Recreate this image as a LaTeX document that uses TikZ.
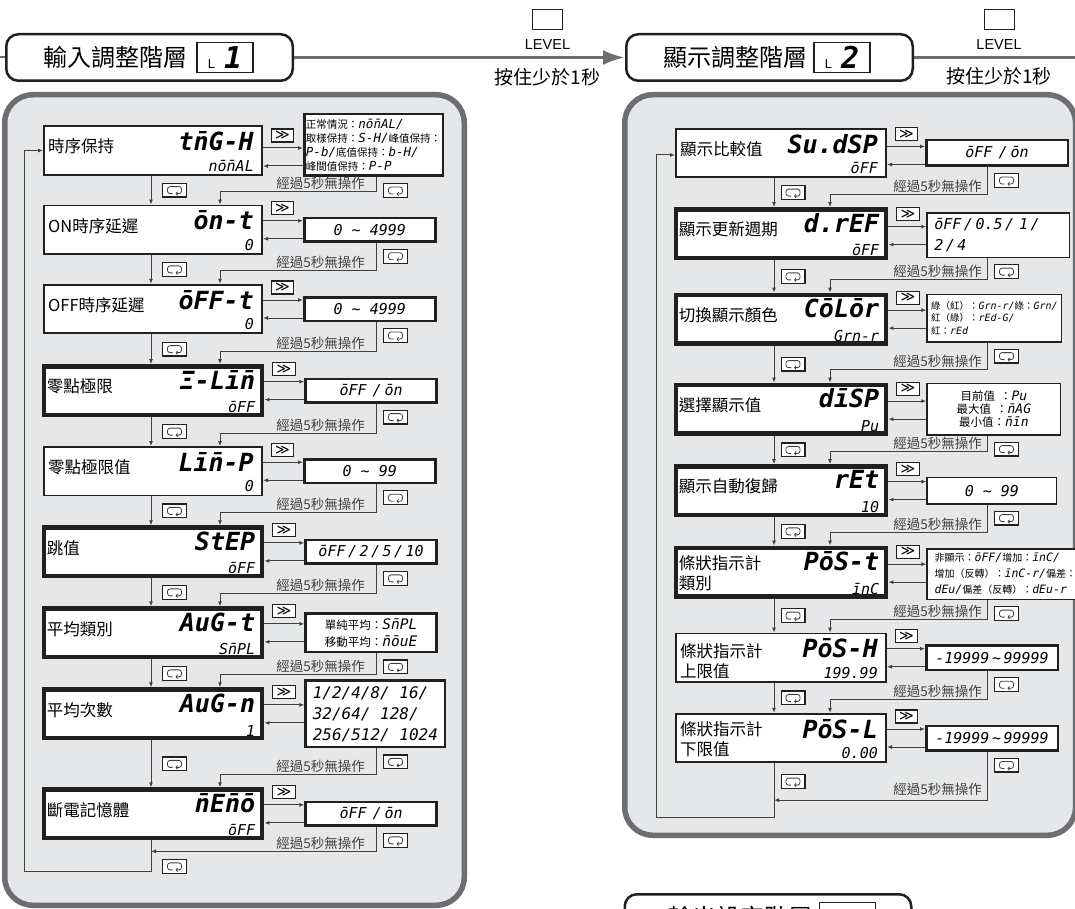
\documentclass[tikz,border=0pt]{standalone}
\usepackage{fontspec}
\setmainfont{Liberation Sans}
\newfontfamily\cjkfont{Noto Sans CJK TC}
\newfontfamily\segfont{DejaVu Sans Mono}
\newfontfamily\keyfont{DejaVu Sans}
\usetikzlibrary{arrows.meta,positioning,calc}
\definecolor{panelgray}{RGB}{230,231,232}
\definecolor{rimgray}{RGB}{109,110,113}
\definecolor{inkblack}{RGB}{35,31,32}
\definecolor{wiregray}{RGB}{64,64,64}
% chinese words inside the option boxes
\newcommand\zh[2][11]{{\cjkfont\fontsize{#1}{#1}\selectfont #2}}
% segment m (n with a bar on top)
\newcommand\segm{\rlap{\char"00AF}n}
% loop symbol of the mode key
\newcommand\retkey[1]{\draw[wiregray,line width=0.8pt,rounded corners=2.5pt,-{Straight Barb[length=1.5pt,width=3.5pt]}] ([shift={(-2pt,-3.5pt)}]#1.center) -- ++(-5pt,0pt) -- ++(0pt,7pt) -- ++(14pt,0pt) -- ++(0pt,-7pt) -- ++(-6pt,0pt);}

\begin{document}
\begin{tikzpicture}[x=1pt, y=-1pt,
  panel/.style={fill=panelgray, draw=rimgray, line width=5.5pt, rounded corners=28pt},
  hdr/.style={draw=inkblack, fill=white, line width=2.5pt, rounded corners=12pt, minimum width=286.5pt, minimum height=46.5pt, inner sep=0pt},
  hdrtext/.style={font=\cjkfont\fontsize{24}{24}\selectfont, inner sep=0pt},
  lvtag/.style={draw=inkblack, fill=white, line width=1.2pt, minimum width=56pt, minimum height=30pt, inner sep=0pt},
  lvkey/.style={draw=inkblack, line width=1pt, minimum width=30pt, minimum height=20pt, inner sep=0pt},
  lvtext/.style={font=\fontsize{14.5}{14.5}\selectfont, inner sep=0pt},
  holdtext/.style={font=\cjkfont\fontsize{19}{19}\selectfont, inner sep=0pt},
  lvl/.style={rimgray, line width=3.5pt, -{Latex[length=22pt,width=15pt]}},
  lbox/.style={draw=inkblack, fill=white, line width=1.75pt, minimum width=218.25pt, minimum height=48.5pt, inner sep=0pt},
  rbox/.style={lbox, minimum width=210.25pt},
  heavy/.style={line width=4.5pt},
  rowtext/.style={font=\cjkfont\fontsize{16.5}{20}\selectfont, align=left, inner sep=0pt},
  segbig/.style={font=\segfont\bfseries\itshape\fontsize{25}{25}\selectfont, inner sep=0pt},
  segsmall/.style={font=\segfont\itshape\fontsize{15}{15}\selectfont, inner sep=0pt},
  opt/.style={draw=inkblack, fill=white, line width=2.5pt, inner sep=1pt, font=\segfont\itshape\fontsize{15}{18}\selectfont},
  slim/.style={line width=1.5pt},
  fkey/.style={draw=inkblack, fill=white, line width=1.2pt, minimum width=22.5pt, minimum height=13pt, inner sep=0pt, font=\keyfont\fontsize{14}{13}\selectfont},
  rkey/.style={draw=inkblack, fill=white, line width=1.2pt, minimum width=23.8pt, minimum height=13.8pt, inner sep=0pt},
  ln/.style={wiregray, line width=1pt},
  arrowed/.style={-{Latex[length=5pt,width=4pt]}},
  dwell/.style={font=\cjkfont\fontsize{13.5}{13.5}\selectfont, text=wiregray, inner sep=0pt}]
\useasboundingbox (0,0) rectangle (1075,909);

% grey panels
\draw[panel] (4.75,94.75) rectangle (464.25,905.25);
\draw[panel] (624.75,94.75) rectangle (1075.5,835.25);

% level headers and LEVEL key
\node[hdr] (h1) at (149.5,57.5) {};
\node[hdrtext, anchor=west] (h1t) at ([xshift=38pt]h1.west) {輸入調整階層};
\node[lvtag, right=9pt of h1t] (h1k) {{\fontsize{13}{13}\selectfont L}\hspace{9pt}{\segfont\bfseries\itshape\fontsize{30}{30}\selectfont 1}};
\node[hdr] (h2) at (769.5,57.5) {};
\node[hdrtext, anchor=west] (h2t) at ([xshift=38pt]h2.west) {顯示調整階層};
\node[lvtag, right=6pt of h2t] (h2k) {{\fontsize{13}{13}\selectfont L}\hspace{9pt}{\segfont\bfseries\itshape\fontsize{30}{30}\selectfont 2}};
\node[hdr] (h3) at (768,917.5) {};
\node[hdrtext, anchor=west] (h3t) at ([xshift=45pt]h3.west) {輸出設定階層};
\node[lvtag, right=6pt of h3t] (h3k) {};

\node[lvkey] (lk1) at (547.5,20) {};
\node[lvtext, below=9pt of lk1] (lv1) {LEVEL};
\node[holdtext, below=18pt of lv1] (ht1) {按住少於1秒};
\node[lvkey] (lk2) at (999,19.5) {};
\node[lvtext, below=9pt of lk2] (lv2) {LEVEL};
\node[holdtext, below=18pt of lv2] (ht2) {按住少於1秒};

\draw[lvl,-,line width=2pt] (h1.west) -- ++(-8,0);
\draw[lvl] (h1.east) -- (h2.west);
\draw[lvl,-] (h2.east) -- ++(175,0);
\draw[lvl] ($(h3.east)+(170,0)$) -- (h3.east);

% input adjustment level
\node[lbox] (l1) at (153,150.5) {};
\node[lbox, below=29pt of l1] (l2) {};
\node[lbox, below=29pt of l2] (l3) {};
\node[lbox, heavy, below=30pt of l3] (l4) {};
\node[lbox, below=29pt of l4] (l5) {};
\node[lbox, heavy, below=29pt of l5] (l6) {};
\node[lbox, heavy, below=28pt of l6] (l7) {};
\node[lbox, heavy, below=28pt of l7] (l8) {};
\node[lbox, heavy, below=47pt of l8] (l9) {};

\node[opt, minimum width=138.5pt, minimum height=61.5pt, right=40pt of l1, yshift=5.5pt, align=left, font=\segfont\itshape\fontsize{12.5}{14}\selectfont] (o1) {\zh[10.5]{正常情況：}nō\segm AL/\\\zh[10.5]{取樣保持：}S-H/\zh[10.5]{峰值保持：}\\P-b/\zh[10.5]{底值保持：}b-H/\\\zh[10.5]{峰間值保持：}P-P};
\node[opt, minimum width=131pt, minimum height=23.5pt, right=40pt of l2] (o2) {0 \textasciitilde{} 4999};
\node[opt, minimum width=131pt, minimum height=23.5pt, right=40pt of l3] (o3) {0 \textasciitilde{} 4999};
\node[opt, minimum width=131pt, minimum height=23.5pt, right=40pt of l4] (o4) {ōFF\hspace{6pt}/\hspace{3pt}ōn};
\node[opt, minimum width=131pt, minimum height=23.5pt, right=40pt of l5] (o5) {0 \textasciitilde{} 99};
\node[opt, minimum width=131pt, minimum height=23.5pt, right=40pt of l6] (o6) {ōFF\,/\,2\,/\,5\,/\,10};
\node[opt, minimum width=131pt, minimum height=38.5pt, right=40pt of l7, align=center, font=\segfont\itshape\fontsize{14.5}{16.5}\selectfont] (o7) {\zh[11.5]{單純平均：}S\segm PL\\\zh[11.5]{移動平均：}\segm ōuE};
\node[opt, minimum width=139.5pt, minimum height=66.5pt, right=40pt of l8, align=left, font=\segfont\itshape\fontsize{16}{21}\selectfont] (o8) {1/2/4/8/ 16/\\32/64/ 128/\\256/512/ 1024};
\node[opt, minimum width=131pt, minimum height=23.5pt, right=40pt of l9] (o9) {ōFF\hspace{6pt}/\hspace{3pt}ōn};

% display adjustment level
\node[rbox] (r1) at (781,153) {};
\node[rbox, heavy, below=29pt of r1] (r2) {};
\node[rbox, heavy, below=32.5pt of r2] (r3) {};
\node[rbox, heavy, below=37pt of r3] (r4) {};
\node[rbox, heavy, below=28.5pt of r4] (r5) {};
\node[rbox, heavy, below=28.5pt of r5] (r6) {};
\node[rbox, below=34pt of r6] (r7) {};
\node[rbox, below=30pt of r7] (r8) {};

\node[opt, minimum width=141.5pt, minimum height=25.5pt, right=38pt of r1] (p1) {ōFF\hspace{6pt}/\hspace{3pt}ōn};
\node[opt, slim, minimum width=142.5pt, minimum height=44.5pt, right=38pt of r2, yshift=-1.5pt, align=left, text width=128pt, font=\segfont\itshape\fontsize{15}{21}\selectfont] (p2) {ōFF\,/\,0.5\,/\,\,1\,/\\2\,/\,4};
\node[opt, slim, minimum width=134.5pt, minimum height=47.5pt, right=38pt of r3, yshift=1pt, align=left, font=\segfont\itshape\fontsize{10}{12.5}\selectfont] (p3) {\zh[9.5]{綠（紅）：}Grn-r/\zh[9.5]{綠：}Grn/\\\zh[9.5]{紅（綠）：}rEd-G/\\\zh[9.5]{紅：}rEd};
\node[opt, slim, minimum width=133.5pt, minimum height=51.5pt, right=38pt of r4, align=center, font=\segfont\itshape\fontsize{13}{13}\selectfont] (p4) {\zh[11.5]{目前值\hspace{5pt}：}Pu\\\zh[11.5]{最大值\hspace{5pt}：}\segm AG\\\zh[11.5]{最小值：}\segm īn};
\node[opt, slim, minimum width=129.5pt, minimum height=26.5pt, right=38pt of r5] (p5) {0 \textasciitilde{} 99};
\node[opt, slim, minimum width=156.5pt, minimum height=50.5pt, right=38pt of r6, yshift=-2pt, align=left, font=\segfont\itshape\fontsize{11.5}{16}\selectfont] (p6) {\zh[10]{非顯示：}ōFF/\zh[10]{增加：}īnC/\\\zh[10]{增加（反轉）：}īnC-r/\zh[10]{偏差：}\\dEu/\zh[10]{偏差（反轉）：}dEu-r};
\node[opt, minimum width=131.5pt, minimum height=24.5pt, right=38pt of r7] (p7) {-19999\,\textasciitilde\,99999};
\node[opt, minimum width=131.5pt, minimum height=24.5pt, right=38pt of r8] (p8) {-19999\,\textasciitilde\,99999};

% names and display codes in the boxes
\foreach \bx/\lab/\dy/\code/\val in {l1/時序保持/4/t\segm G-H/nō\segm AL, l2/ON時序延遲/4/ōn-t/0, l3/OFF時序延遲/4/ōFF-t/0, l4/零點極限/4/Ξ-Lī\segm/ōFF, l5/零點極限值/4/Lī\segm-P/0, l6/跳值/4/StEP/ōFF, l7/平均類別/4/AuG-t/S\segm PL, l8/平均次數/4/AuG-n/1, l9/斷電記憶體/4/\segm E\segm ō/ōFF, r1/顯示比較值/4/Su.dSP/ōFF, r2/顯示更新週期/4/d.rEF/ōFF, r3/切換顯示顏色/4/CōLōr/Grn-r, r4/選擇顯示值/4/dīSP/Pu, r5/顯示自動復歸/4/rEt/10, r6/條狀指示計\\類別/-1/PōS-t/īnC, r7/條狀指示計\\上限值/-3/PōS-H/199.99, r8/條狀指示計\\下限值/-1/PōS-L/0.00}{
  \node[rowtext, anchor=west] (t\bx) at ([shift={(5pt,\dy pt)}]\bx.west) {\lab};
  \node[segbig, anchor=north east] (c\bx) at ([shift={(-9pt,-6pt)}]\bx.north east) {\code};
  \node[segsmall, anchor=south east] (v\bx) at ([shift={(-9pt,4pt)}]\bx.south east) {\val};
}

% set and return arrows with the shift key
\foreach \cur/\sel/\s in {l1/o1/-6.5, l2/o2/0, l3/o3/0, l4/o4/0, l5/o5/0, l6/o6/0, l7/o7/0, l8/o8/0, l9/o9/0, r1/p1/-2.5, r2/p2/-2, r3/p3/0, r4/p4/-1, r5/p5/0, r6/p6/-1, r7/p7/0, r8/p8/0}{
  \draw[ln, arrowed] ([yshift={(9+\s)*1pt}]\cur.east) -- ($(\cur.east -| \sel.west)+(0,{-(9+\s)})$);
  \draw[ln, arrowed] ($(\cur.east -| \sel.west)+(0,{9-\s})$) -- ([yshift={(\s-9)*1pt}]\cur.east);
  \node[fkey] (f\cur) at ([shift={(19.5pt,{(21.5+\s)*1pt})}]\cur.east) {≫};
}

% mode key and time-out paths, left
\coordinate (ldn) at (151,0);
\coordinate (lturn) at (220,0);
\coordinate (lvr) at (376,0);
\coordinate (ltx) at (365,0);
\coordinate (lkr) at (383,0);
\coordinate (lback) at (24,0);
\foreach \cur/\nxt/\sel in {l1/l2/o1, l2/l3/o2, l3/l4/o3, l4/l5/o4, l5/l6/o5, l6/l7/o6, l7/l8/o7, l8/l9/o8}{
  \draw[ln, arrowed] (\cur.south -| ldn) -- (\nxt.north -| ldn);
  \draw[ln, arrowed] (\sel.south -| lvr) |- ($(\nxt.north -| lturn)+(0,-13)$) -- (\nxt.north -| lturn);
  \node[dwell, anchor=base east] (w\cur) at ($(\nxt.north -| ltx)+(0,-16)$) {經過5秒無操作};
  \path (\cur.south) -- (\nxt.north) node[rkey, midway, xshift=21.5pt] (k\cur) {};
  \node[rkey, anchor=north west] (q\cur) at ($(\sel.south -| lkr)+(0,6)$) {};
  \retkey{k\cur}
  \retkey{q\cur}
}
\draw[ln, arrowed] (o9.south -| lvr) |- ($(l9.south -| ldn)+(0,11)$);
\draw[ln, arrowed] (l9.south -| ldn) -- ++(0,31) coordinate (lend) -- (lend -| lback) |- (l1.west);
\node[dwell, anchor=base east] (wl9) at ($(l9.south -| ltx)+(0,8)$) {經過5秒無操作};
\node[rkey] (kl9) at ([shift={(21.5pt,-26pt)}]l9.south) {};
\node[rkey, anchor=north west] (ql9) at ($(o9.south -| lkr)+(0,6)$) {};
\retkey{kl9}
\retkey{ql9}

% mode key and time-out paths, right
\coordinate (rdn) at (774,0);
\coordinate (rturn) at (830,0);
\coordinate (rvr) at (987,0);
\coordinate (rtx) at (982,0);
\coordinate (rkr) at (994,0);
\coordinate (rback) at (656,0);
\foreach \cur/\nxt/\sel in {r1/r2/p1, r2/r3/p2, r3/r4/p3, r4/r5/p4, r5/r6/p5, r6/r7/p6, r7/r8/p7}{
  \draw[ln, arrowed] (\cur.south -| rdn) -- (\nxt.north -| rdn);
  \draw[ln, arrowed] (\sel.south -| rvr) |- ($(\nxt.north -| rturn)+(0,-13)$) -- (\nxt.north -| rturn);
  \node[dwell, anchor=base east] (w\cur) at ($(\nxt.north -| rtx)+(0,-16)$) {經過5秒無操作};
  \path (\cur.south) -- (\nxt.north) node[rkey, midway, xshift=12pt] (k\cur) {};
  \node[rkey, anchor=north west] (q\cur) at ($(\sel.south -| rkr)+(0,6)$) {};
  \retkey{k\cur}
  \retkey{q\cur}
}
\draw[ln, arrowed] (p8.south -| rvr) |- ($(r8.south -| rdn)+(0,37)$);
\draw[ln, arrowed] (r8.south -| rdn) -- ++(0,54) coordinate (rend) -- (rend -| rback) |- ([yshift=-2pt]r1.west);
\node[dwell, anchor=base east] (wr8) at ($(r8.south -| rtx)+(0,31)$) {經過5秒無操作};
\node[rkey] (kr8) at ([shift={(12pt,-18.5pt)}]r8.south) {};
\node[rkey, anchor=north west] (qr8) at ($(p8.south -| rkr)+(0,6)$) {};
\retkey{kr8}
\retkey{qr8}
\end{tikzpicture}
\end{document}
